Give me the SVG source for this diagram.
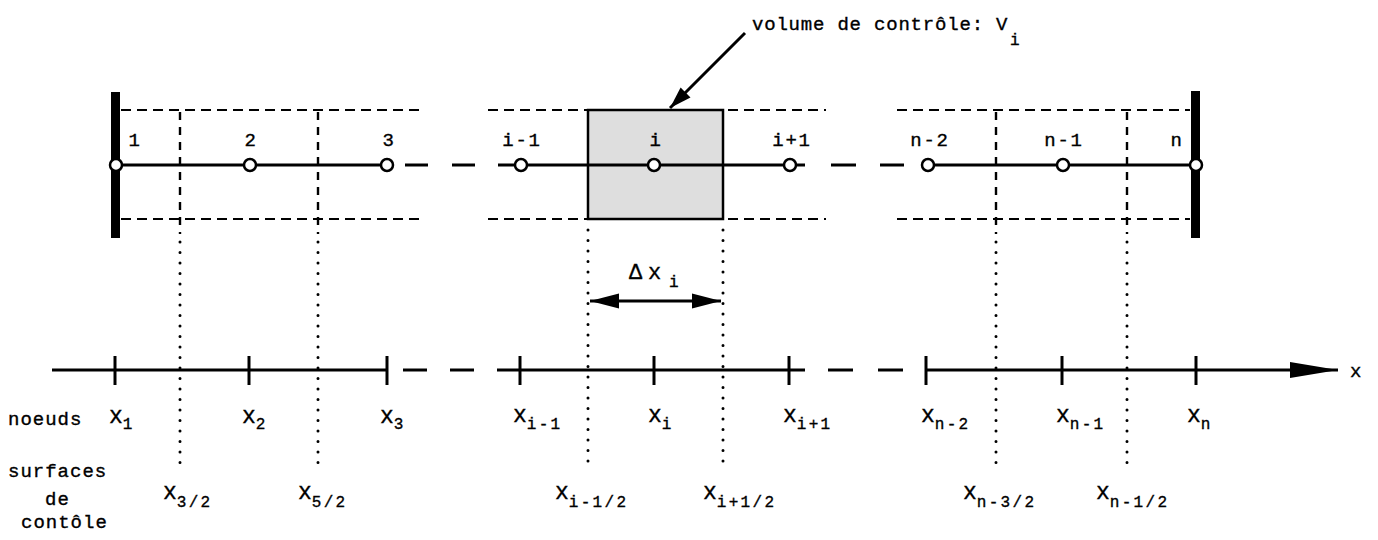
<svg xmlns="http://www.w3.org/2000/svg" width="1378" height="540" viewBox="0 0 1378 540">
<style>
text{font-family:"Liberation Mono","DejaVu Sans Mono",monospace;fill:#000;stroke:#000;stroke-width:0.35}
.lbl{font-size:19px;letter-spacing:1px}
.num{font-size:19px;letter-spacing:1.8px}
.xv{font-size:23px}
.sub{font-size:16px;letter-spacing:2.3px}
.solid{stroke:#000;stroke-width:3;fill:none}
.dash{stroke:#000;stroke-width:2.2;stroke-dasharray:10 6;fill:none}
.vdash{stroke:#000;stroke-width:2.4;stroke-dasharray:8 7;fill:none}
.dot{stroke:#000;stroke-width:3;stroke-linecap:round;stroke-dasharray:0 10.5;fill:none}
.wall{fill:#000}
.node{fill:#fff;stroke:#000;stroke-width:2.5}
.tick{stroke:#000;stroke-width:3}
</style>
<defs>
<marker id="ah" markerUnits="userSpaceOnUse" markerWidth="24" markerHeight="16" refX="22" refY="8" orient="auto">
<path d="M0,1 L22,8 L0,15 Z" fill="#000"/>
</marker>
<marker id="ahd" markerUnits="userSpaceOnUse" markerWidth="30" markerHeight="16" refX="29" refY="8" orient="auto-start-reverse">
<path d="M0,0.5 L29,8 L0,15.5 Z" fill="#000"/>
</marker>
<marker id="ax" markerUnits="userSpaceOnUse" markerWidth="50" markerHeight="18" refX="48" refY="9" orient="auto">
<path d="M0,1 L48,9 L0,17 Z" fill="#000"/>
</marker>
</defs>

<g id="grid">
<line class="dash" x1="121" y1="110" x2="425" y2="110"/>
<line class="dash" x1="121" y1="219" x2="425" y2="219"/>
<line class="dash" x1="488" y1="110" x2="826" y2="110"/>
<line class="dash" x1="488" y1="219" x2="826" y2="219"/>
<line class="dash" x1="897" y1="110" x2="1190" y2="110"/>
<line class="dash" x1="897" y1="219" x2="1190" y2="219"/>
<line class="vdash" x1="180" y1="112" x2="180" y2="234"/>
<line class="vdash" x1="318" y1="112" x2="318" y2="234"/>
<line class="vdash" x1="996" y1="112" x2="996" y2="234"/>
<line class="vdash" x1="1127" y1="112" x2="1127" y2="234"/>
</g>

<g id="control-volume">
<rect x="588" y="110" width="135" height="109" fill="#dedede" stroke="#000" stroke-width="2.5"/>
</g>

<g id="connectors">
<line class="solid" x1="116" y1="165" x2="387" y2="165"/>
<line class="solid" x1="405" y1="165" x2="428" y2="165"/>
<line class="solid" x1="452" y1="165" x2="475" y2="165"/>
<line class="solid" x1="498" y1="165" x2="805" y2="165"/>
<line class="solid" x1="831" y1="165" x2="856" y2="165"/>
<line class="solid" x1="880" y1="165" x2="904" y2="165"/>
<line class="solid" x1="927" y1="165" x2="1196" y2="165"/>
<line x1="745" y1="33" x2="670" y2="108" stroke="#000" stroke-width="3" marker-end="url(#ah)"/>
<line x1="590" y1="301" x2="721" y2="301" stroke="#000" stroke-width="3" marker-start="url(#ahd)" marker-end="url(#ahd)"/>
<line class="dot" x1="180" y1="242" x2="180" y2="470"/>
<line class="dot" x1="318" y1="242" x2="318" y2="470"/>
<line class="dot" x1="588" y1="230" x2="588" y2="470"/>
<line class="dot" x1="723" y1="230" x2="723" y2="470"/>
<line class="dot" x1="996" y1="242" x2="996" y2="470"/>
<line class="dot" x1="1127" y1="242" x2="1127" y2="470"/>
</g>

<g id="axis">
<line class="solid" x1="52" y1="370" x2="387" y2="370"/>
<line class="solid" x1="403" y1="370" x2="427" y2="370"/>
<line class="solid" x1="450" y1="370" x2="474" y2="370"/>
<line class="solid" x1="497" y1="370" x2="805" y2="370"/>
<line class="solid" x1="828" y1="370" x2="853" y2="370"/>
<line class="solid" x1="878" y1="370" x2="903" y2="370"/>
<line class="solid" x1="925" y1="370" x2="1338" y2="370" marker-end="url(#ax)"/>
<line class="tick" x1="115" y1="356" x2="115" y2="385"/>
<line class="tick" x1="249" y1="356" x2="249" y2="385"/>
<line class="tick" x1="387" y1="356" x2="387" y2="385"/>
<line class="tick" x1="520" y1="356" x2="520" y2="385"/>
<line class="tick" x1="654" y1="356" x2="654" y2="385"/>
<line class="tick" x1="789" y1="356" x2="789" y2="385"/>
<line class="tick" x1="926" y1="356" x2="926" y2="385"/>
<line class="tick" x1="1062" y1="356" x2="1062" y2="385"/>
<line class="tick" x1="1196" y1="356" x2="1196" y2="385"/>
<text x="1350" y="377" style="font-size:19px">x</text>
</g>

<g id="wall-left"><rect class="wall" x="111" y="92" width="9" height="146"/></g>
<g id="wall-right"><rect class="wall" x="1191" y="91" width="9" height="147"/></g>

<g id="node-1"><circle class="node" cx="116" cy="165" r="6"/><text class="num" x="135" y="146" text-anchor="middle">1</text></g>
<g id="node-2"><circle class="node" cx="250" cy="165" r="6"/><text class="num" x="251" y="146" text-anchor="middle">2</text></g>
<g id="node-3"><circle class="node" cx="387" cy="165" r="6"/><text class="num" x="389" y="146" text-anchor="middle">3</text></g>
<g id="node-im1"><circle class="node" cx="521" cy="165" r="6"/><text class="num" x="522" y="146" text-anchor="middle">i-1</text></g>
<g id="node-i"><circle class="node" cx="654" cy="165" r="6"/><text class="num" x="656" y="146" text-anchor="middle">i</text></g>
<g id="node-ip1"><circle class="node" cx="790" cy="165" r="6"/><text class="num" x="792" y="146" text-anchor="middle">i+1</text></g>
<g id="node-nm2"><circle class="node" cx="928" cy="165" r="6"/><text class="num" x="930" y="146" text-anchor="middle">n-2</text></g>
<g id="node-nm1"><circle class="node" cx="1063" cy="165" r="6"/><text class="num" x="1064" y="146" text-anchor="middle">n-1</text></g>
<g id="node-n"><circle class="node" cx="1196" cy="165" r="6"/><text class="num" x="1177" y="146" text-anchor="middle">n</text></g>

<g id="labels">
<text class="lbl" x="752" y="30" style="letter-spacing:0.8px">volume de contrôle: V</text>
<text class="sub" x="1010" y="45">i</text>
<text x="629" y="279" style="font-size:22px">Δ</text>
<text x="648" y="279" style="font-size:22px">x</text>
<text class="sub" x="669" y="287">i</text>

<text class="lbl" x="8" y="425">noeuds</text>
<text class="lbl" x="8" y="477">surfaces</text>
<text class="lbl" x="45" y="505">de</text>
<text class="lbl" x="21" y="528">contôle</text>

<text x="109" y="423"><tspan class="xv">x</tspan><tspan class="sub" dy="6">1</tspan></text>
<text x="242" y="423"><tspan class="xv">x</tspan><tspan class="sub" dy="6">2</tspan></text>
<text x="380" y="423"><tspan class="xv">x</tspan><tspan class="sub" dy="6">3</tspan></text>
<text x="513" y="422"><tspan class="xv">x</tspan><tspan class="sub" dy="7">i-1</tspan></text>
<text x="648" y="422"><tspan class="xv">x</tspan><tspan class="sub" dy="7">i</tspan></text>
<text x="783" y="422"><tspan class="xv">x</tspan><tspan class="sub" dy="7">i+1</tspan></text>
<text x="921" y="422"><tspan class="xv">x</tspan><tspan class="sub" dy="7">n-2</tspan></text>
<text x="1056" y="422"><tspan class="xv">x</tspan><tspan class="sub" dy="7">n-1</tspan></text>
<text x="1187" y="422"><tspan class="xv">x</tspan><tspan class="sub" dy="7">n</tspan></text>

<text x="163" y="499"><tspan class="xv">x</tspan><tspan class="sub" dy="8">3/2</tspan></text>
<text x="298" y="499"><tspan class="xv">x</tspan><tspan class="sub" dy="8">5/2</tspan></text>
<text x="555" y="499"><tspan class="xv">x</tspan><tspan class="sub" dy="8">i-1/2</tspan></text>
<text x="703" y="499"><tspan class="xv">x</tspan><tspan class="sub" dy="8">i+1/2</tspan></text>
<text x="963" y="499"><tspan class="xv">x</tspan><tspan class="sub" dy="8">n-3/2</tspan></text>
<text x="1096" y="499"><tspan class="xv">x</tspan><tspan class="sub" dy="8">n-1/2</tspan></text>
</g>
</svg>
